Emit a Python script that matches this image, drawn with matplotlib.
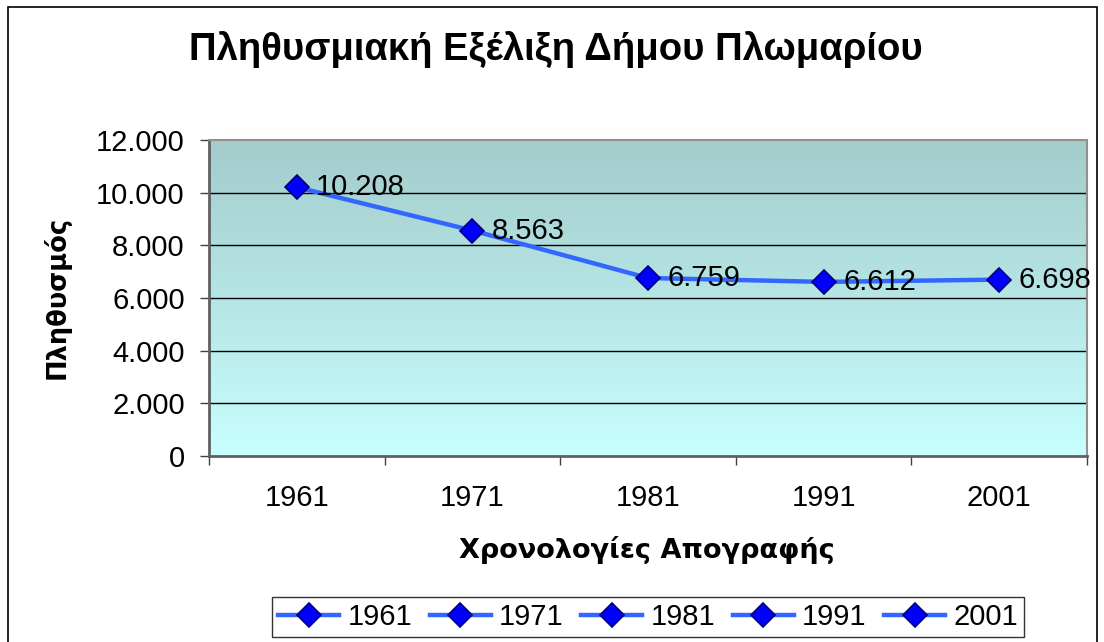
import numpy as np
import matplotlib
matplotlib.use("Agg")
import matplotlib.pyplot as plt
from matplotlib.lines import Line2D
from matplotlib.patches import Rectangle
from matplotlib.ticker import FuncFormatter

plt.rcParams['font.family'] = ['Liberation Sans', 'DejaVu Sans']

# data
years = ['1961', '1971', '1981', '1991', '2001']
population = [10208, 8563, 6759, 6612, 6698]

title = 'Πληθυσμιακή Εξέλιξη Δήμου Πλωμαρίου'
xlabel = 'Χρονολογίες Απογραφής'
ylabel = 'Πληθυσμός'

line_col = '#3366ff'
mark_col = '#0000ff'
mark_edge = '#000080'
fs = 21

def dotfmt(v):
    return f'{int(v):,}'.replace(',', '.')

W, H = 1104, 642
fig = plt.figure(figsize=(W / 100, H / 100), dpi=100)
fig.patch.set_facecolor('white')

# plot area in pixels: left 209, right 1087, top 140, bottom 456
ax = fig.add_axes([209 / W, 1 - 456 / H, (1087 - 209) / W, (456 - 140) / H])

x = np.arange(len(years))
ax.set_xlim(-0.5, len(years) - 0.5)
ax.set_ylim(0, 12000)

# gradient background
top = np.array([163, 204, 203]) / 255
bot = np.array([200, 255, 255]) / 255
t = np.linspace(0, 1, 256)[:, None]
grad = (top * (1 - t) + bot * t)[:, None, :]
ax.imshow(grad, extent=[-0.5, len(years) - 0.5, 0, 12000], aspect='auto',
          origin='upper', zorder=0)

# gridlines
for v in range(2000, 12000, 2000):
    ax.axhline(v, color='black', lw=1, zorder=1)

ax.plot(x, population, color=line_col, lw=3.2, zorder=3,
        marker='D', ms=12, mfc=mark_col, mec=mark_edge, mew=1.2)

for xi, yi in zip(x, population):
    ax.annotate(dotfmt(yi), (xi, yi), xytext=(14, 0),
                textcoords='offset points', ha='left', va='center',
                fontsize=fs, zorder=4)

ax.set_yticks(range(0, 12001, 2000))
ax.yaxis.set_major_formatter(FuncFormatter(lambda v, p: dotfmt(v)))
ax.set_xticks(x)
ax.set_xticklabels(years)
ax.set_xticks(np.arange(-0.5, len(years), 1), minor=True)
ax.tick_params(axis='x', which='major', length=0, labelsize=fs, pad=20)
ax.tick_params(axis='x', which='minor', length=6.5, width=1, color='#404040')
ax.tick_params(axis='y', length=6.5, width=1, color='#404040', labelsize=fs, pad=11)

for s in ['left', 'bottom']:
    ax.spines[s].set_color('#606060')
    ax.spines[s].set_linewidth(2)
for s in ['top', 'right']:
    ax.spines[s].set_color('#909090')
    ax.spines[s].set_linewidth(1.5)

fig.text(556 / W, 1 - 50 / H, title, ha='center', va='center',
         fontsize=27.5, fontweight='bold')
fig.text(647 / W, 1 - 550 / H, xlabel, ha='center', va='center',
         fontsize=19.5, fontweight='bold', family='DejaVu Sans')
fig.text(57 / W, 1 - 297 / H, ylabel, ha='center', va='center',
         fontsize=18.5, fontweight='bold', rotation=90, family='DejaVu Sans')

handles = [Line2D([], [], color=line_col, lw=3.2, marker='D', ms=12,
                  mfc=mark_col, mec=mark_edge, mew=1.2) for _ in years]
leg = fig.legend(handles, years, loc='center', ncol=5,
                 bbox_to_anchor=(648 / W, 1 - 617 / H), fontsize=fs,
                 frameon=True, fancybox=False, edgecolor='black',
                 handlelength=2.1, handletextpad=0.28, columnspacing=0.6,
                 borderpad=0.2, borderaxespad=0)
leg.get_frame().set_linewidth(1)

# outer chart border
fig.patches.append(Rectangle((8 / W, -0.05), (1097 - 8) / W, 1 - 7 / H + 0.05,
                             transform=fig.transFigure, fill=False,
                             edgecolor='black', lw=1.2))

fig.savefig('out.png', dpi=100)
